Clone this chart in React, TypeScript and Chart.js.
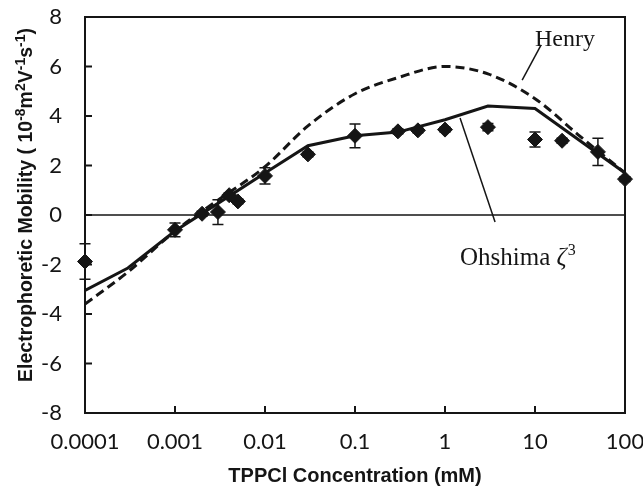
import React, { useEffect, useRef } from "react";
import { Chart, registerables } from "chart.js";

Chart.register(...registerables);

// Measured electrophoretic mobility (diamonds with error bars)
const concentrations = [0.0001, 0.001, 0.002, 0.003, 0.004, 0.005, 0.01, 0.03, 0.1, 0.3, 0.5, 1, 3, 10, 20, 50, 100];
const measured = [-1.88, -0.6, 0.05, 0.12, 0.8, 0.55, 1.58, 2.45, 3.2, 3.38, 3.42, 3.45, 3.55, 3.05, 3.0, 2.55, 1.45];
const measuredError = [0.72, 0.28, 0.1, 0.5, 0.1, 0.1, 0.33, 0.1, 0.48, 0.1, 0.1, 0.1, 0.15, 0.3, 0.1, 0.55, 0.1];

// Ohshima zeta^3 model (solid line)
const ohshimaConc = [0.0001, 0.0003, 0.001, 0.003, 0.01, 0.03, 0.1, 0.3, 1, 3, 10, 100];
const ohshima = [-3.05, -2.14, -0.65, 0.47, 1.7, 2.8, 3.2, 3.35, 3.85, 4.4, 4.3, 1.7];

// Henry model (dashed line)
const henryConc = [0.0001, 0.0003, 0.001, 0.003, 0.01, 0.03, 0.1, 0.3, 1, 3, 10, 30, 100];
const henry = [-3.6, -2.3, -0.65, 0.6, 1.95, 3.6, 4.9, 5.55, 6.0, 5.7, 4.7, 3.25, 1.7];

// Annotation leaders and labels (data coordinates)
const henryLeaderX = [11.7, 7.2];
const henryLeaderY = [6.87, 5.45];
const ohshimaLeaderX = [1.47, 3.6];
const ohshimaLeaderY = [3.92, -0.28];
const henryLabelPos = [10, 6.83];
const ohshimaLabelPos = [1.47, -2.02];

const xTicks = [0.0001, 0.001, 0.01, 0.1, 1, 10, 100];
const yTicks = [-8, -6, -4, -2, 0, 2, 4, 6, 8];

const xTitle = "TPPCl Concentration (mM)";
const yTitleParts: [string, boolean][] = [
  ["Electrophoretic Mobility ( 10", false],
  ["-8", true],
  ["m", false],
  ["2", true],
  ["V", false],
  ["-1", true],
  ["s", false],
  ["-1", true],
  [")", false],
];

const INK = "#151515";

const pts = (xs: number[], ys: number[]) => xs.map((x, i) => ({ x, y: ys[i] }));

const framePlugin = {
  id: "frame",
  beforeDatasetsDraw(chart: any) {
    const { ctx, chartArea, scales } = chart;
    const { left, right } = chartArea;
    const x = scales.x;
    const y = scales.y;
    ctx.save();
    const y0 = y.getPixelForValue(0);
    ctx.strokeStyle = INK;
    ctx.lineWidth = 1.5;
    ctx.beginPath();
    ctx.moveTo(left, y0);
    ctx.lineTo(right, y0);
    ctx.stroke();
    ctx.lineWidth = 1.5;
    concentrations.forEach((c, i) => {
      const px = x.getPixelForValue(c);
      const pTop = y.getPixelForValue(measured[i] + measuredError[i]);
      const pBot = y.getPixelForValue(measured[i] - measuredError[i]);
      ctx.beginPath();
      ctx.moveTo(px, pTop);
      ctx.lineTo(px, pBot);
      ctx.moveTo(px - 5.5, pTop);
      ctx.lineTo(px + 5.5, pTop);
      ctx.moveTo(px - 5.5, pBot);
      ctx.lineTo(px + 5.5, pBot);
      ctx.stroke();
    });
    ctx.restore();
  },
  afterDatasetsDraw(chart: any) {
    const { ctx, chartArea, scales } = chart;
    const { left, right, top, bottom } = chartArea;
    const x = scales.x;
    const y = scales.y;
    ctx.save();
    ctx.strokeStyle = INK;
    ctx.lineWidth = 2;
    ctx.strokeRect(left, top, right - left, bottom - top);
    ctx.beginPath();
    xTicks.forEach((v) => {
      const px = x.getPixelForValue(v);
      ctx.moveTo(px, bottom);
      ctx.lineTo(px, bottom - 7);
    });
    yTicks.forEach((v) => {
      const py = y.getPixelForValue(v);
      ctx.moveTo(left, py);
      ctx.lineTo(left + 7, py);
    });
    ctx.stroke();

    ctx.fillStyle = INK;
    ctx.textBaseline = "alphabetic";
    ctx.textAlign = "left";
    ctx.font = '24px "Liberation Serif"';
    ctx.fillText("Henry", x.getPixelForValue(henryLabelPos[0]), y.getPixelForValue(henryLabelPos[1]));

    let ox = x.getPixelForValue(ohshimaLabelPos[0]);
    const oy = y.getPixelForValue(ohshimaLabelPos[1]);
    ctx.font = '25px "Liberation Serif"';
    ctx.fillText("Ohshima ", ox, oy);
    ox += ctx.measureText("Ohshima ").width;
    ctx.font = 'italic 25px "Liberation Serif"';
    ctx.fillText("ζ", ox, oy);
    ox += ctx.measureText("ζ").width + 1;
    ctx.font = '16px "Liberation Serif"';
    ctx.fillText("3", ox, oy - 10);

    ctx.font = 'bold 20px "Liberation Sans"';
    ctx.textAlign = "center";
    ctx.fillText(xTitle, (left + right) / 2, chart.height - 6);

    const normalFont = 'bold 19.5px "Liberation Sans"';
    const supFont = 'bold 14px "Liberation Sans"';
    let total = 0;
    yTitleParts.forEach(([t, sup]) => {
      ctx.font = sup ? supFont : normalFont;
      total += ctx.measureText(t).width;
    });
    ctx.translate(32, (top + bottom) / 2 - 10);
    ctx.rotate(-Math.PI / 2);
    ctx.textAlign = "left";
    let tx = -total / 2;
    yTitleParts.forEach(([t, sup]) => {
      ctx.font = sup ? supFont : normalFont;
      ctx.fillText(t, tx, sup ? -7 : 0);
      tx += ctx.measureText(t).width;
    });
    ctx.restore();
  },
};

export default function App() {
  const ref = useRef<HTMLCanvasElement>(null);
  useEffect(() => {
    if (!ref.current) return;
    const chart = new Chart(ref.current, {
      type: "scatter",
      data: {
        datasets: [
          {
            label: "Measured",
            data: pts(concentrations, measured),
            pointStyle: "rectRot",
            pointRadius: 7.5,
            backgroundColor: INK,
            borderColor: INK,
            borderWidth: 1,
            clip: false,
            order: 0,
          } as any,
          {
            label: "Ohshima",
            data: pts(ohshimaConc, ohshima),
            showLine: true,
            borderColor: INK,
            borderWidth: 3,
            pointRadius: 0,
            order: 1,
          },
          {
            label: "Henry",
            data: pts(henryConc, henry),
            showLine: true,
            borderColor: INK,
            borderWidth: 3,
            borderDash: [9, 5],
            cubicInterpolationMode: "monotone",
            pointRadius: 0,
            order: 2,
          } as any,
          {
            label: "Henry leader",
            data: pts(henryLeaderX, henryLeaderY),
            showLine: true,
            borderColor: INK,
            borderWidth: 1.5,
            pointRadius: 0,
            order: 3,
          },
          {
            label: "Ohshima leader",
            data: pts(ohshimaLeaderX, ohshimaLeaderY),
            showLine: true,
            borderColor: INK,
            borderWidth: 1.5,
            pointRadius: 0,
            order: 3,
          },
        ],
      },
      options: {
        responsive: false,
        animation: false,
        layout: { padding: { top: 17, right: 18, left: 0, bottom: 0 } },
        plugins: { legend: { display: false }, tooltip: { enabled: false } },
        scales: {
          x: {
            type: "logarithmic",
            min: 0.0001,
            max: 100,
            border: { display: false },
            grid: { display: false, drawTicks: false },
            afterBuildTicks: (scale: any) => {
              scale.ticks = xTicks.map((v) => ({ value: v }));
            },
            afterFit: (scale: any) => {
              scale.height = 75;
              scale.paddingLeft = 0;
              scale.paddingRight = 0;
              scale.paddingTop = 0;
              scale.paddingBottom = 0;
            },
            ticks: {
              autoSkip: false,
              maxRotation: 0,
              padding: 16,
              color: INK,
              font: { family: "Lato", size: 22 },
              callback: (v: any) => String(Number(v)),
            },
          },
          y: {
            min: -8,
            max: 8,
            border: { display: false },
            grid: { display: false, drawTicks: false },
            afterBuildTicks: (scale: any) => {
              scale.ticks = yTicks.map((v) => ({ value: v }));
            },
            afterFit: (scale: any) => {
              scale.width = 85;
              scale.paddingLeft = 0;
              scale.paddingRight = 0;
              scale.paddingTop = 0;
              scale.paddingBottom = 0;
            },
            ticks: {
              padding: 23,
              color: INK,
              font: { family: "Lato", size: 22 },
            },
          },
        },
      },
      plugins: [framePlugin],
    } as any);
    return () => chart.destroy();
  }, []);
  return (
    <div style={{ position: "fixed", left: 0, top: 0, width: 643, height: 488, background: "#fff" }}>
      <canvas ref={ref} width={643} height={488} style={{ display: "block" }} />
    </div>
  );
}
